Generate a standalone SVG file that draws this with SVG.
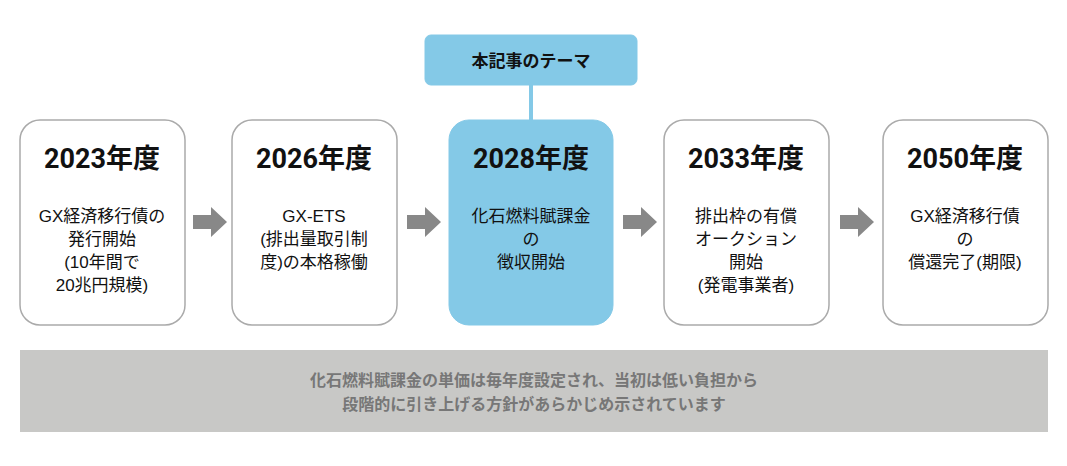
<svg xmlns="http://www.w3.org/2000/svg" width="1067" height="466" viewBox="0 0 1067 466">
<style>
.box{fill:#fff;stroke:#aaa;stroke-width:1.5}
.hl{fill:#84c9e7;stroke:#84c9e7}
.yr{font-family:Roboto,"Liberation Sans","Noto Sans CJK JP",sans-serif;font-weight:bold;font-size:27px;fill:#111;text-anchor:middle}
.tx{font-family:"Liberation Sans","Noto Sans CJK JP",sans-serif;font-size:17px;fill:#111;text-anchor:middle}
.arr{fill:#888}
.bn{font-family:"Liberation Sans","Noto Sans CJK JP",sans-serif;font-size:16px;font-weight:bold;fill:#777;text-anchor:middle}
</style>
<rect width="1067" height="466" fill="#fff"/>
<g id="connectors">
<line x1="531" y1="85" x2="531" y2="120" stroke="#84c9e7" stroke-width="4"/>
<polygon class="arr" points="193,215 211,215 211,207 227,222 211,237 211,229 193,229"/>
<polygon class="arr" points="407,215 425,215 425,207 441,222 425,237 425,229 407,229"/>
<polygon class="arr" points="623,215 641,215 641,207 657,222 641,237 641,229 623,229"/>
<polygon class="arr" points="840,215 858,215 858,207 874,222 858,237 858,229 840,229"/>
</g>
<g id="theme">
<rect x="425" y="35" width="212" height="50" rx="6" class="hl"/>
<text x="531" y="67" class="tx" style="font-weight:bold">本記事のテーマ</text>
</g>
<g id="n2023">
<rect x="20" y="120" width="165" height="205" rx="20" class="box"/>
<text x="102" y="168" class="yr">2023年度</text>
<text class="tx"><tspan x="102" y="222">GX経済移行債の</tspan><tspan x="102" y="245">発行開始</tspan><tspan x="102" y="268">(10年間で</tspan><tspan x="102" y="291">20兆円規模)</tspan></text>
</g>
<g id="n2026">
<rect x="232" y="120" width="165" height="205" rx="20" class="box"/>
<text x="314" y="168" class="yr">2026年度</text>
<text class="tx"><tspan x="314" y="222">GX-ETS</tspan><tspan x="314" y="245">(排出量取引制</tspan><tspan x="314" y="268">度)の本格稼働</tspan></text>
</g>
<g id="n2028">
<rect x="449" y="120" width="164" height="205" rx="20" class="hl"/>
<text x="531" y="168" class="yr">2028年度</text>
<text class="tx"><tspan x="531" y="222">化石燃料賦課金</tspan><tspan x="531" y="245">の</tspan><tspan x="531" y="268">徴収開始</tspan></text>
</g>
<g id="n2033">
<rect x="664" y="120" width="165" height="205" rx="20" class="box"/>
<text x="746" y="168" class="yr">2033年度</text>
<text class="tx"><tspan x="746" y="222">排出枠の有償</tspan><tspan x="746" y="245">オークション</tspan><tspan x="746" y="268">開始</tspan><tspan x="746" y="291">(発電事業者)</tspan></text>
</g>
<g id="n2050">
<rect x="883" y="120" width="165" height="205" rx="20" class="box"/>
<text x="965" y="168" class="yr">2050年度</text>
<text class="tx"><tspan x="965" y="222">GX経済移行債</tspan><tspan x="965" y="245">の</tspan><tspan x="965" y="268">償還完了(期限)</tspan></text>
</g>
<g id="banner">
<rect x="20" y="350" width="1028" height="82" fill="#c8c8c6"/>
<text class="bn"><tspan x="534" y="386">化石燃料賦課金の単価は毎年度設定され、当初は低い負担から</tspan><tspan x="534" y="410">段階的に引き上げる方針があらかじめ示されています</tspan></text>
</g>
</svg>
